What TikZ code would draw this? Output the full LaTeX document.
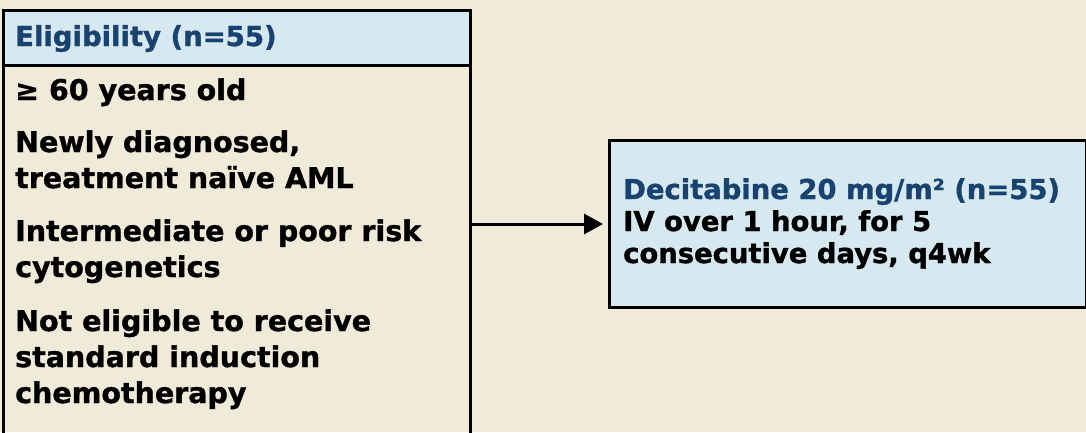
\documentclass[tikz,border=0pt]{standalone}
\usepackage{fontspec}
\setmainfont{DejaVu Sans}[BoldFeatures={FakeBold=1.2}]
\usetikzlibrary{arrows.meta}
\definecolor{bg}{RGB}{240,234,217}
\definecolor{boxblue}{RGB}{214,232,240}
\definecolor{txtblue}{RGB}{24,66,112}
\begin{document}
\begin{tikzpicture}[x=1pt,y=-1pt,
  frame/.style={draw=black, line width=2.6pt, inner sep=0pt, anchor=north west},
  lline/.style={anchor=base west, inner sep=0pt, font=\fontsize{28.5}{34}\selectfont\bfseries},
  hline/.style={anchor=base west, inner sep=0pt, text=txtblue, font=\fontsize{27.5}{33}\selectfont\bfseries},
  rline/.style={anchor=base west, inner sep=0pt, font=\fontsize{27.4}{33}\selectfont\bfseries},
  conn/.style={line width=3pt, -{Triangle[length=19pt,width=20pt]}, shorten >=5pt}]
\useasboundingbox (0,0) rectangle (1086,432);
\fill[bg] (0,0) rectangle (1086,432);
\begin{scope}
\clip (0,0) rectangle (1086,432);
\node[frame, minimum width=467pt, minimum height=500pt] (elig) at (2,9) {};
\node[frame, fill=boxblue, minimum width=467pt, minimum height=55pt] (hdr) at (2,9) {};
\node[frame, line width=3pt, fill=boxblue, minimum width=477pt, minimum height=167pt] (dec) at (608,139) {};
\end{scope}
% left texts
\node[hline] (h1) at (15,46) {Eligibility (n=55)};
\node[lline] (l1) at (15,100) {≥ 60 years old};
\node[lline] (l2) at (15,152) {Newly diagnosed,};
\node[lline] (l3) at (15,188) {treatment naïve AML};
\node[lline] (l4) at (15,241) {Intermediate or poor risk};
\node[lline] (l5) at (15,277) {cytogenetics};
\node[lline] (l6) at (15,331) {Not eligible to receive};
\node[lline] (l7) at (15,367) {standard induction};
\node[lline] (l8) at (15,403) {chemotherapy};
% right texts
\node[rline, text=txtblue] (r1) at (623,199) {Decitabine 20 mg/m² (n=55)};
\node[rline] (r2) at (623,231) {IV over 1 hour, for 5};
\node[rline] (r3) at (623,263) {consecutive days, q4wk};
% connector
\draw[conn] (dec.west -| elig.east) -- (dec.west);
\end{tikzpicture}
\end{document}
